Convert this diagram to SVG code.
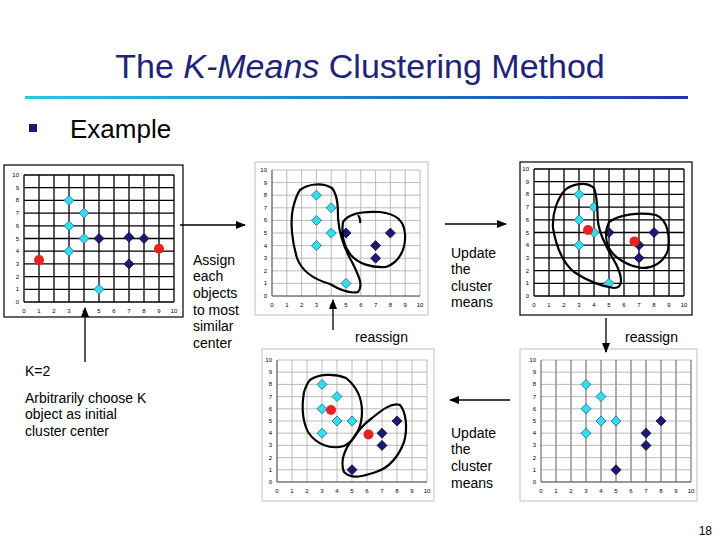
<svg xmlns="http://www.w3.org/2000/svg" xmlns:xlink="http://www.w3.org/1999/xlink" width="720" height="540" viewBox="0 0 720 540">
<style>
.t{font-family:"Liberation Sans",Arial,sans-serif;fill:#000}
.lbl{font-family:"Liberation Sans",Arial,sans-serif;font-size:14px;fill:#000}
.tk{font-family:"Liberation Sans",Arial,sans-serif;font-size:6px;fill:#000}
.frame{fill:#fff;stroke:#000;stroke-width:1.2}
.frame2{fill:#fff;stroke:#ccc;stroke-width:1.2}
.gb{fill:none;stroke:#000;stroke-width:1.3}
.gg{fill:none;stroke:#aaa;stroke-width:0.8}
.ggt{fill:none;stroke:#999;stroke-width:1.6}
.blob{fill:none;stroke:#000;stroke-width:2.2;stroke-linejoin:round}
.arr{stroke:#000;stroke-width:1.3;fill:none}
</style>
<defs>
<path id="dc" d="M0,-5L5,0L0,5L-5,0Z" fill="#33ddee" stroke="#1a6a88" stroke-width="0.8"/>
<path id="dn" d="M0,-5L5,0L0,5L-5,0Z" fill="#1a1a6e" stroke="#0a0a40" stroke-width="0.8"/>
<circle id="rc" r="5" fill="#e8231f"/>
<marker id="ah" viewBox="0 0 10 10" refX="9" refY="5" markerWidth="8" markerHeight="8" orient="auto"><path d="M0,1L10,5L0,9Z" fill="#000"/></marker>
<linearGradient id="ul" x1="0" x2="1"><stop offset="0" stop-color="#22ccdd"/><stop offset="1" stop-color="#2233aa"/></linearGradient>
</defs>

<text class="t" x="360" y="78" font-size="34" text-anchor="middle" style="fill:#222277">The <tspan font-style="italic">K-Means</tspan> Clustering Method</text>
<rect x="25" y="96" width="663" height="3" fill="url(#ul)"/>
<rect x="29" y="124" width="8" height="8" fill="#1a1a6e"/>
<text class="t" x="70" y="138" font-size="26">Example</text>

<g id="chart1">
<rect class="frame" x="4" y="165" width="179" height="152"/>
<g transform="translate(24,302)">
<path class="gb" d="M0,0V-127M15,0V-127M30,0V-127M45,0V-127M60,0V-127M75,0V-127M90,0V-127M105,0V-127M120,0V-127M135,0V-127M150,0V-127M0,0H150M0,-12.7H150M0,-25.4H150M0,-38.1H150M0,-50.8H150M0,-63.5H150M0,-76.2H150M0,-88.9H150M0,-101.6H150M0,-114.3H150M0,-127H150"/>
<g class="tk" text-anchor="middle"><text x="0" y="11">0</text><text x="15" y="11">1</text><text x="30" y="11">2</text><text x="45" y="11">3</text><text x="60" y="11">4</text><text x="75" y="11">5</text><text x="90" y="11">6</text><text x="105" y="11">7</text><text x="120" y="11">8</text><text x="135" y="11">9</text><text x="150" y="11">10</text></g>
<g class="tk" text-anchor="end"><text x="-5" y="2">0</text><text x="-5" y="-10.7">1</text><text x="-5" y="-23.4">2</text><text x="-5" y="-36.1">3</text><text x="-5" y="-48.8">4</text><text x="-5" y="-61.5">5</text><text x="-5" y="-74.2">6</text><text x="-5" y="-86.9">7</text><text x="-5" y="-99.6">8</text><text x="-5" y="-112.3">9</text><text x="-5" y="-125">10</text></g>
<use xlink:href="#dc" x="45" y="-101.6"/><use xlink:href="#dc" x="60" y="-88.9"/><use xlink:href="#dc" x="45" y="-76.2"/><use xlink:href="#dc" x="60" y="-63.5"/><use xlink:href="#dc" x="45" y="-50.8"/><use xlink:href="#dc" x="75" y="-12.7"/>
<use xlink:href="#dn" x="75" y="-63.5"/><use xlink:href="#dn" x="105" y="-64.8"/><use xlink:href="#dn" x="120" y="-63.5"/><use xlink:href="#dn" x="105" y="-38.1"/>
<use xlink:href="#rc" x="15" y="-41.9"/><use xlink:href="#rc" x="135" y="-53.3"/>
</g>
</g>

<g id="chart2">
<rect class="frame2" x="255" y="162" width="173" height="153"/>
<g transform="translate(272,296)">
<path class="gg" d="M0,0V-126M14.8,0V-126M29.6,0V-126M44.4,0V-126M59.2,0V-126M74,0V-126M88.8,0V-126M103.6,0V-126M118.4,0V-126M133.2,0V-126M148,0V-126M0,0H148M0,-12.6H148M0,-25.2H148M0,-37.8H148M0,-50.4H148M0,-63H148M0,-75.6H148M0,-88.2H148M0,-100.8H148M0,-113.4H148M0,-126H148"/>
<path d="M0,0V-126M0,0H148" stroke="#555" stroke-width="1"/>
<g class="tk" text-anchor="middle"><text x="0" y="11">0</text><text x="14.8" y="11">1</text><text x="29.6" y="11">2</text><text x="44.4" y="11">3</text><text x="59.2" y="11">4</text><text x="74" y="11">5</text><text x="88.8" y="11">6</text><text x="103.6" y="11">7</text><text x="118.4" y="11">8</text><text x="133.2" y="11">9</text><text x="148" y="11">10</text></g>
<g class="tk" text-anchor="end"><text x="-5" y="2">0</text><text x="-5" y="-10.6">1</text><text x="-5" y="-23.2">2</text><text x="-5" y="-35.8">3</text><text x="-5" y="-48.4">4</text><text x="-5" y="-61">5</text><text x="-5" y="-73.6">6</text><text x="-5" y="-86.2">7</text><text x="-5" y="-98.8">8</text><text x="-5" y="-111.4">9</text><text x="-5" y="-124">10</text></g>
<use xlink:href="#dc" x="44.4" y="-100.8"/><use xlink:href="#dc" x="59.2" y="-88.2"/><use xlink:href="#dc" x="44.4" y="-75.6"/><use xlink:href="#dc" x="59.2" y="-63"/><use xlink:href="#dc" x="44.4" y="-50.4"/><use xlink:href="#dc" x="74" y="-12.6"/>
<use xlink:href="#dn" x="74" y="-63"/><use xlink:href="#dn" x="103.6" y="-50.4"/><use xlink:href="#dn" x="103.6" y="-37.8"/><use xlink:href="#dn" x="118.4" y="-63"/>
</g>
<path class="blob" d="M300,190C308,184 322,182 332,188C338,196 338,208 338,218C339,232 344,248 352,262C358,274 364,286 358,292C350,294 340,290 330,284C316,280 302,272 297,258C292,242 290,222 293,208C295,200 297,194 300,190Z"/>
<path class="blob" d="M343,222C348,214 362,211 380,212C396,214 404,220 405,234C406,248 400,262 386,267C372,268 358,264 350,254C344,246 341,236 343,222ZM358,215C360,218 361,220 360,223"/>
</g>

<g id="chart3">
<rect class="frame" x="520" y="162" width="172" height="153"/>
<g transform="translate(534,296)">
<path class="gb" d="M0,0V-127M15,0V-127M30,0V-127M45,0V-127M60,0V-127M75,0V-127M90,0V-127M105,0V-127M120,0V-127M135,0V-127M150,0V-127M0,0H150M0,-12.7H150M0,-25.4H150M0,-38.1H150M0,-50.8H150M0,-63.5H150M0,-76.2H150M0,-88.9H150M0,-101.6H150M0,-114.3H150M0,-127H150"/>
<g class="tk" text-anchor="middle"><text x="0" y="11">0</text><text x="15" y="11">1</text><text x="30" y="11">2</text><text x="45" y="11">3</text><text x="60" y="11">4</text><text x="75" y="11">5</text><text x="90" y="11">6</text><text x="105" y="11">7</text><text x="120" y="11">8</text><text x="135" y="11">9</text><text x="150" y="11">10</text></g>
<g class="tk" text-anchor="end"><text x="-5" y="2">0</text><text x="-5" y="-10.7">1</text><text x="-5" y="-23.4">2</text><text x="-5" y="-36.1">3</text><text x="-5" y="-48.8">4</text><text x="-5" y="-61.5">5</text><text x="-5" y="-74.2">6</text><text x="-5" y="-86.9">7</text><text x="-5" y="-99.6">8</text><text x="-5" y="-112.3">9</text><text x="-5" y="-125">10</text></g>
<use xlink:href="#dc" x="45" y="-101.6"/><use xlink:href="#dc" x="60" y="-88.9"/><use xlink:href="#dc" x="45" y="-76.2"/><use xlink:href="#dc" x="60" y="-63.5"/><use xlink:href="#dc" x="45" y="-50.8"/><use xlink:href="#dc" x="75" y="-12.7"/>
<use xlink:href="#dn" x="75" y="-63.5"/><use xlink:href="#dn" x="105" y="-50.8"/><use xlink:href="#dn" x="105" y="-38.1"/><use xlink:href="#dn" x="120" y="-63.5"/>
<use xlink:href="#rc" x="54" y="-66"/><use xlink:href="#rc" x="100.5" y="-54.6"/>
</g>
<path class="blob" d="M565,190C572,184 586,181 594,188C598,198 597,212 598,222C600,236 608,250 616,264C622,276 624,288 614,288C600,286 586,280 574,272C562,262 556,246 553,228C552,212 558,198 565,190Z"/>
<path class="blob" d="M609,222C620,214 640,212 656,215C668,220 670,236 668,250C664,262 654,268 642,268C628,266 614,258 609,248C605,240 605,230 609,222Z"/>
</g>

<g id="chart4">
<rect class="frame2" x="262" y="349" width="172" height="152"/>
<g transform="translate(277,482)">
<path class="gg" d="M0,0V-122M15,0V-122M30,0V-122M45,0V-122M60,0V-122M75,0V-122M90,0V-122M105,0V-122M120,0V-122M135,0V-122M150,0V-122M0,0H150M0,-12.2H150M0,-24.4H150M0,-36.6H150M0,-48.8H150M0,-61H150M0,-73.2H150M0,-85.4H150M0,-97.6H150M0,-109.8H150M0,-122H150"/>
<path d="M0,0V-122M0,0H150" stroke="#555" stroke-width="1"/>
<g class="tk" text-anchor="middle"><text x="0" y="11">0</text><text x="15" y="11">1</text><text x="30" y="11">2</text><text x="45" y="11">3</text><text x="60" y="11">4</text><text x="75" y="11">5</text><text x="90" y="11">6</text><text x="105" y="11">7</text><text x="120" y="11">8</text><text x="135" y="11">9</text><text x="150" y="11">10</text></g>
<g class="tk" text-anchor="end"><text x="-5" y="2">0</text><text x="-5" y="-10.2">1</text><text x="-5" y="-22.4">2</text><text x="-5" y="-34.6">3</text><text x="-5" y="-46.8">4</text><text x="-5" y="-59">5</text><text x="-5" y="-71.2">6</text><text x="-5" y="-83.4">7</text><text x="-5" y="-95.6">8</text><text x="-5" y="-107.8">9</text><text x="-5" y="-120">10</text></g>
<use xlink:href="#dc" x="45" y="-97.6"/><use xlink:href="#dc" x="60" y="-85.4"/><use xlink:href="#dc" x="45" y="-73.2"/><use xlink:href="#dc" x="60" y="-61"/><use xlink:href="#dc" x="75" y="-61"/><use xlink:href="#dc" x="45" y="-48.8"/>
<use xlink:href="#dn" x="120" y="-61"/><use xlink:href="#dn" x="105" y="-48.8"/><use xlink:href="#dn" x="105" y="-36.6"/><use xlink:href="#dn" x="75" y="-12.2"/>
<use xlink:href="#rc" x="54" y="-72"/><use xlink:href="#rc" x="91.5" y="-47.6"/>
</g>
<path class="blob" d="M310,380C318,374 334,373 346,378C356,386 362,398 362,412C362,426 356,440 344,446C330,450 316,444 308,432C302,420 302,404 304,392C306,386 308,382 310,380Z"/>
<path class="blob" d="M372,418C382,410 392,402 400,405C406,412 408,428 404,442C398,458 388,468 376,472C364,476 352,480 344,472C340,462 344,450 352,440C358,430 364,424 372,418Z"/>
</g>

<g id="chart5">
<rect class="frame2" x="520" y="349" width="177" height="152"/>
<g transform="translate(541,482)">
<path class="gg" d="M0,0H150M0,-12.2H150M0,-24.4H150M0,-36.6H150M0,-48.8H150M0,-61H150M0,-73.2H150M0,-85.4H150M0,-97.6H150M0,-109.8H150M0,-122H150"/>
<path class="ggt" d="M15,0V-122M30,0V-122M45,0V-122M60,0V-122M75,0V-122M90,0V-122M105,0V-122M120,0V-122M135,0V-122M150,0V-122"/>
<path d="M0,0V-122M0,0H150" stroke="#555" stroke-width="1"/>
<g class="tk" text-anchor="middle"><text x="0" y="11">0</text><text x="15" y="11">1</text><text x="30" y="11">2</text><text x="45" y="11">3</text><text x="60" y="11">4</text><text x="75" y="11">5</text><text x="90" y="11">6</text><text x="105" y="11">7</text><text x="120" y="11">8</text><text x="135" y="11">9</text><text x="150" y="11">10</text></g>
<g class="tk" text-anchor="end"><text x="-5" y="2">0</text><text x="-5" y="-10.2">1</text><text x="-5" y="-22.4">2</text><text x="-5" y="-34.6">3</text><text x="-5" y="-46.8">4</text><text x="-5" y="-59">5</text><text x="-5" y="-71.2">6</text><text x="-5" y="-83.4">7</text><text x="-5" y="-95.6">8</text><text x="-5" y="-107.8">9</text><text x="-5" y="-120">10</text></g>
<use xlink:href="#dc" x="45" y="-97.6"/><use xlink:href="#dc" x="60" y="-85.4"/><use xlink:href="#dc" x="45" y="-73.2"/><use xlink:href="#dc" x="60" y="-61"/><use xlink:href="#dc" x="75" y="-61"/><use xlink:href="#dc" x="45" y="-48.8"/>
<use xlink:href="#dn" x="120" y="-61"/><use xlink:href="#dn" x="105" y="-48.8"/><use xlink:href="#dn" x="105" y="-36.6"/><use xlink:href="#dn" x="75" y="-12.2"/>
</g>
</g>

<g id="connectors">
<line class="arr" x1="180" y1="225" x2="245" y2="225" marker-end="url(#ah)"/>
<line class="arr" x1="445" y1="224" x2="506" y2="224" marker-end="url(#ah)"/>
<line class="arr" x1="333" y1="330" x2="333" y2="300" marker-end="url(#ah)"/>
<line class="arr" x1="606" y1="318" x2="606" y2="352" marker-end="url(#ah)"/>
<line class="arr" x1="510" y1="400" x2="450" y2="400" marker-end="url(#ah)"/>
<line class="arr" x1="85" y1="362" x2="85" y2="308" marker-end="url(#ah)"/>
</g>

<g id="labels">
<text class="lbl" x="193" y="265">Assign</text><text class="lbl" x="193" y="281">each</text><text class="lbl" x="193" y="298">objects</text><text class="lbl" x="193" y="315">to most</text><text class="lbl" x="193" y="331">similar</text><text class="lbl" x="193" y="348">center</text>
<text class="lbl" x="451" y="258">Update</text><text class="lbl" x="451" y="274">the</text><text class="lbl" x="451" y="291">cluster</text><text class="lbl" x="451" y="307">means</text>
<text class="lbl" x="355" y="342">reassign</text>
<text class="lbl" x="625" y="342">reassign</text>
<text class="lbl" x="25" y="376">K=2</text>
<text class="lbl" x="25" y="403">Arbitrarily choose K</text><text class="lbl" x="25" y="419">object as initial</text><text class="lbl" x="25" y="436">cluster center</text>
<text class="lbl" x="451" y="438">Update</text><text class="lbl" x="451" y="454">the</text><text class="lbl" x="451" y="471">cluster</text><text class="lbl" x="451" y="488">means</text>
<text class="t" x="712" y="535" font-size="12" text-anchor="end">18</text>
</g>
</svg>
